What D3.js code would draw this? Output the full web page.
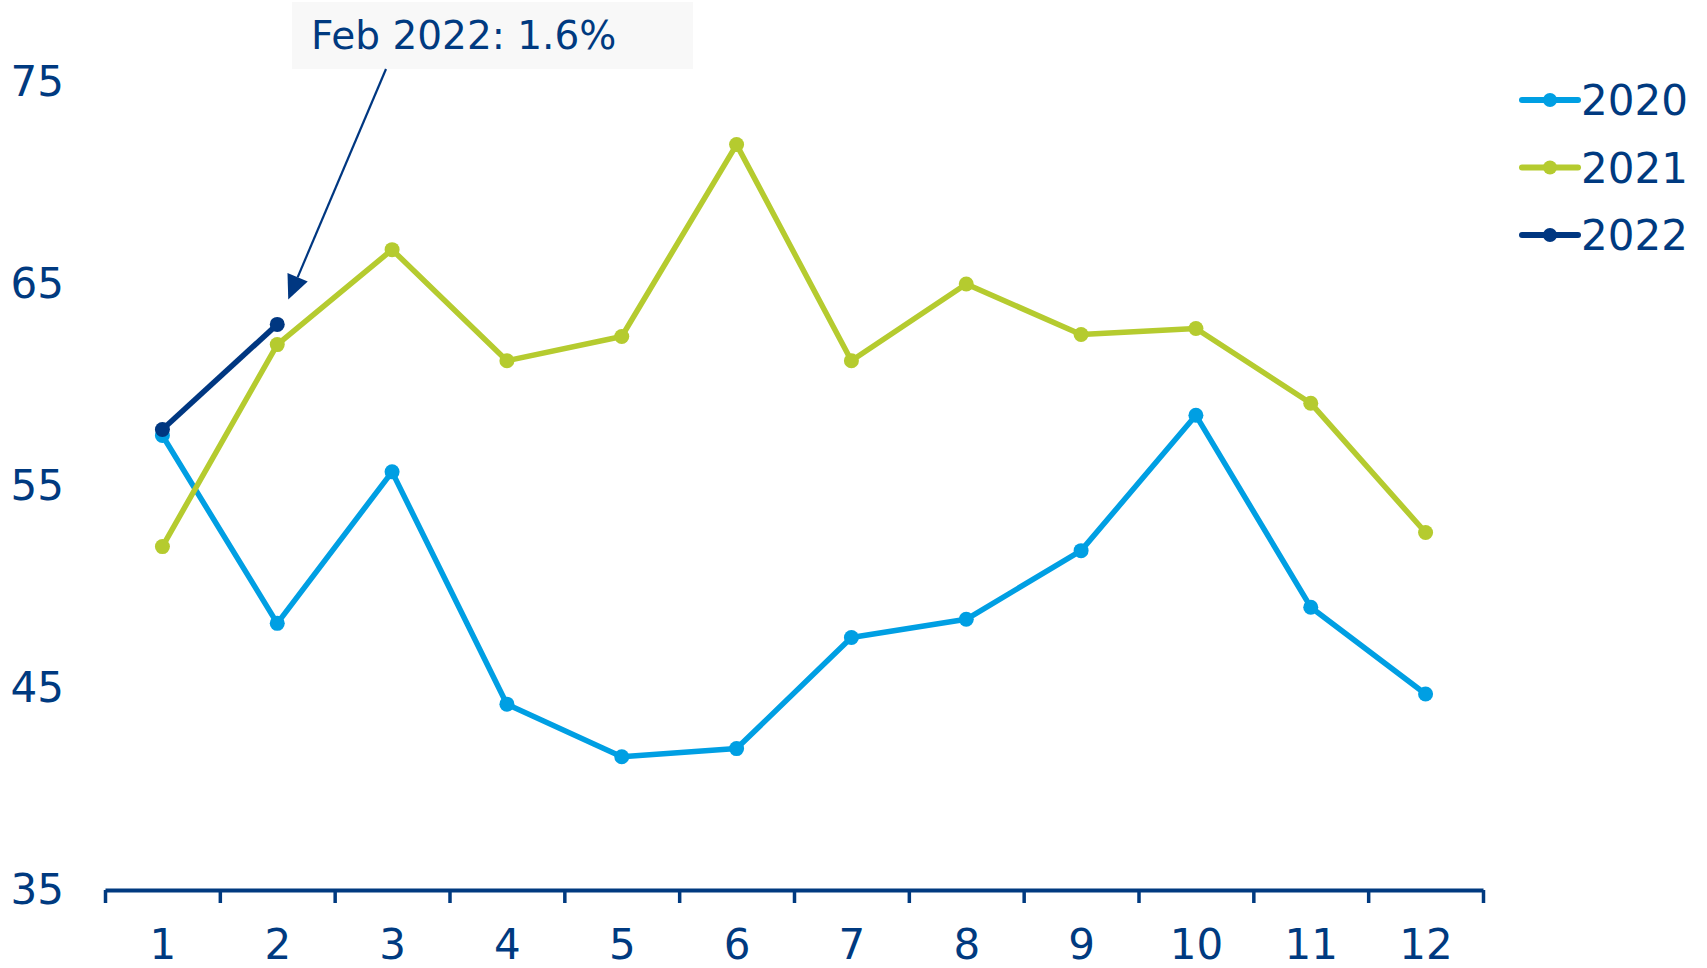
<!DOCTYPE html>
<html>
<head>
  <meta charset="utf-8">
  <title>Monthly index 2020-2022</title>
  <script src="https://d3js.org/d3.v7.min.js"></script>
  <style type="text/css">
    body {
      margin: 0;
      background-color: #ffffff;
      font-family: Verdana, 'DejaVu Sans', sans-serif;
    }
    .axis text {
      fill: #003a80;
      font-family: Verdana, 'DejaVu Sans', sans-serif;
    }
  </style>
</head>
<body>
<div id="chart"></div>

<script>
  // data
  var months = [1, 2, 3, 4, 5, 6, 7, 8, 9, 10, 11, 12];
  var values2020 = [57.5, 48.2, 55.7, 44.2, 41.6, 42.0, 47.5, 48.4, 51.8, 58.5, 49.0, 44.7];
  var values2021 = [52.0, 62.0, 66.7, 61.2, 62.4, 71.9, 61.2, 65.0, 62.5, 62.8, 59.1, 52.7];
  var values2022 = [57.8, 63.0];
  var yTicks = [35, 45, 55, 65, 75];
  var seriesNames = ["2020", "2021", "2022"];
  var seriesColors = ["#009fe3", "#b5cb2f", "#003781"];
  var noteText = "Feb 2022: 1.6%";
  var noteMonth = 2;
  var noteValue = 63.0;

  var width = 1707, height = 968;
  var navy = "#003a80";

  var svg = d3.select("#chart").append("svg").attr("width", width).attr("height", height);

  // month 1..12 sit in the middle of 12 equal slots
  var x = d3.scaleLinear().domain([0.5, 12.5]).range([105, 1483]);
  var y = d3.scaleLinear().domain([35, 75]).range([890, 82]);

  // x axis: boundary ticks
  var xBound = d3.range(0.5, 13, 1);
  var xAxisTicks = svg.append("g").attr("class", "axis").attr("transform", "translate(0,890)")
    .call(d3.axisBottom(x).tickValues(xBound).tickFormat("").tickSizeInner(13).tickSizeOuter(0));
  xAxisTicks.select(".domain").attr("stroke", navy).attr("stroke-width", 4);
  xAxisTicks.selectAll(".tick line").attr("stroke", navy).attr("stroke-width", 3.5);

  // x axis: month labels
  var xAxisLabels = svg.append("g").attr("class", "axis").attr("transform", "translate(0,890)")
    .call(d3.axisBottom(x).tickValues(months).tickFormat(d3.format("d")).tickSize(0).tickPadding(39));
  xAxisLabels.select(".domain").remove();
  xAxisLabels.selectAll("text").style("font-size", "42px");

  // y axis: labels only
  var yAxis = svg.append("g").attr("class", "axis").attr("transform", "translate(64,0)")
    .call(d3.axisLeft(y).tickValues(yTicks).tickSize(0).tickPadding(0));
  yAxis.select(".domain").remove();
  yAxis.selectAll("text").style("font-size", "42px");

  // series
  var series = [
    {name: seriesNames[0], color: seriesColors[0], values: values2020},
    {name: seriesNames[1], color: seriesColors[1], values: values2021},
    {name: seriesNames[2], color: seriesColors[2], values: values2022}
  ];

  var line = d3.line()
    .x(function (d, i) { return x(months[i]); })
    .y(function (d) { return y(d); });

  series.forEach(function (s) {
    svg.append("path")
      .datum(s.values)
      .attr("d", line)
      .attr("fill", "none")
      .attr("stroke", s.color)
      .attr("stroke-width", 5.5)
      .attr("stroke-linejoin", "round");
    svg.selectAll(null).data(s.values).enter().append("circle")
      .attr("cx", function (d, i) { return x(months[i]); })
      .attr("cy", function (d) { return y(d); })
      .attr("r", 7.5)
      .attr("fill", s.color);
  });

  // legend
  var legend = svg.append("g").attr("transform", "translate(1522,100)");
  var items = legend.selectAll("g").data(series).enter().append("g")
    .attr("transform", function (d, i) { return "translate(0," + (i * 67.5) + ")"; });
  items.append("line").attr("x1", 0).attr("x2", 56).attr("y1", 0).attr("y2", 0)
    .attr("stroke", function (d) { return d.color; }).attr("stroke-width", 6).attr("stroke-linecap", "round");
  items.append("circle").attr("cx", 28).attr("cy", 0).attr("r", 7).attr("fill", function (d) { return d.color; });
  items.append("text").attr("x", 59).attr("y", 0).attr("dy", "0.36em")
    .style("font-size", "42px").attr("fill", navy).text(function (d) { return d.name; });

  // annotation
  svg.append("rect").attr("x", 292).attr("y", 2).attr("width", 401).attr("height", 67).attr("fill", "#f8f8f8");
  svg.append("text").attr("x", 311).attr("y", 49).style("font-size", "39px").attr("fill", navy).text(noteText);

  var tip = [x(noteMonth) + 11, y(noteValue) - 25];
  var tail = [386, 69];
  var dx = tip[0] - tail[0], dy = tip[1] - tail[1];
  var len = Math.sqrt(dx * dx + dy * dy);
  var ux = dx / len, uy = dy / len;
  var base = [tip[0] - 24 * ux, tip[1] - 24 * uy];
  svg.append("line").attr("x1", tail[0]).attr("y1", tail[1]).attr("x2", base[0]).attr("y2", base[1])
    .attr("stroke", "#003781").attr("stroke-width", 2.2);
  svg.append("polygon")
    .attr("points", [tip, [base[0] - 11 * uy, base[1] + 11 * ux], [base[0] + 11 * uy, base[1] - 11 * ux]]
      .map(function (p) { return p.join(","); }).join(" "))
    .attr("fill", "#003781");
</script>

</body>
</html>
